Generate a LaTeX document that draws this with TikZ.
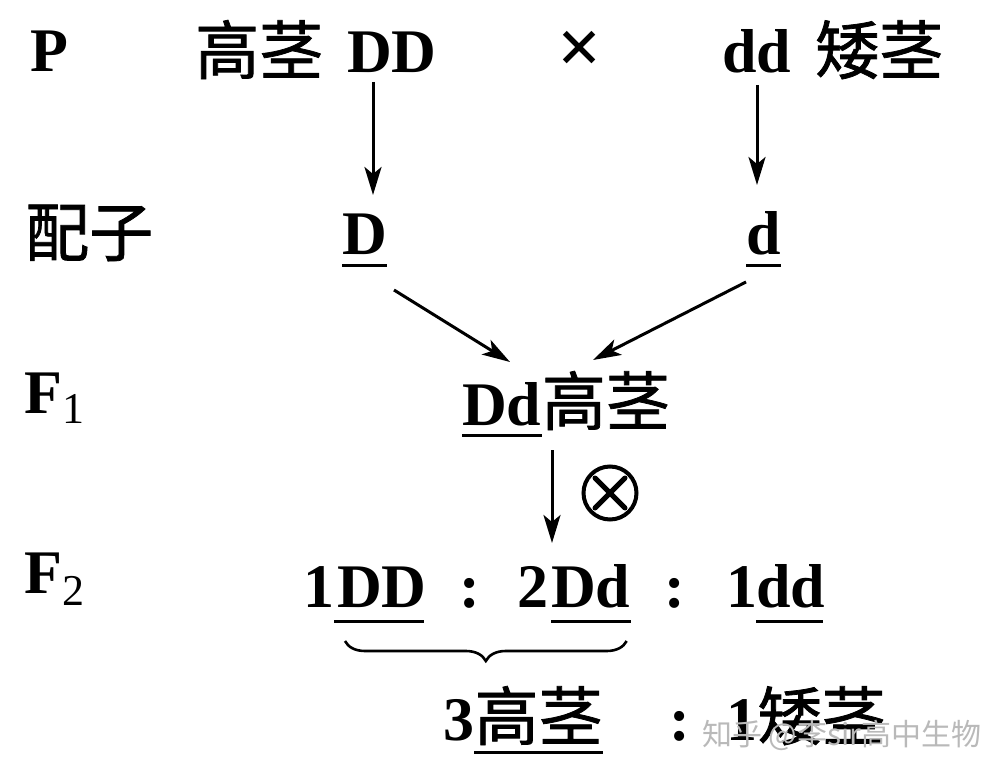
\documentclass[tikz,border=0pt]{standalone}
\usepackage{fontspec}
\setmainfont{Liberation Serif}
\newfontfamily\cjk{Noto Sans CJK SC}[AutoFakeBold=1.2]
\usetikzlibrary{arrows.meta,decorations.pathreplacing}
\newcommand\latf{\fontsize{62}{70}\selectfont\bfseries}
\newcommand\cjkf{\cjk\fontsize{64}{70}\selectfont\bfseries}
\newcommand\subf{\fontsize{44}{46}\selectfont\mdseries}
\tikzset{
  lab/.style={inner sep=0pt, anchor=base west, font=\latf},
  labc/.style={inner sep=0pt, anchor=base, font=\latf},
  cj/.style={inner sep=0pt, anchor=base west, font=\cjkf},
  arr/.style={line width=3pt, -{Stealth[length=28pt,width=17pt,inset=7pt]}},
  ul/.style={line width=3pt},
  wm/.style={inner sep=0pt, anchor=base west, text=gray!55, font=\cjk\fontsize{30}{32}\selectfont\mdseries},
}
\begin{document}
\begin{tikzpicture}[x=1pt,y=-1pt]
\useasboundingbox (0,0) rectangle (1006,775);
% P row
\node[lab] (P) at (30,72) {P};
\node[cj] (tall) at (195,74) {高茎};
\node[lab] (DD) at (347,73) {DD};
\node[labc, font=\fontsize{78}{80}\selectfont\bfseries] (cross) at (580,74) {×};
\node[lab] (dd) at (722,73) {dd};
\node[cj] (short) at (815,74) {矮茎};
% gametes
\node[cj] (gam) at (25,256) {配子};
\node[lab] (gD) at (342,255) {D};
\node[lab] (gd) at (746,255) {d};
\draw[ul] ([yshift=-11pt]gD.base west) -- ([yshift=-11pt]gD.base east);
\draw[ul] ([yshift=-11pt]gd.base west) -- ([yshift=-11pt]gd.base east);
\coordinate (a1) at (373,0);
\coordinate (a2) at (757,0);
\draw[arr] ([yshift=-9pt]DD.base -| a1) -- ([yshift=60pt]gD.base -| a1);
\draw[arr] ([yshift=-12pt]dd.base -| a2) -- ([yshift=70pt]gd.base -| a2);
% F1
\node[lab] (F1) at (24,413) {F\raisebox{-10pt}{\subf 1}};
\node[lab] (f1Dd) at (462,425) {Dd};
\node[cj] (f1tall) at (f1Dd.base east) {高茎};
\draw[ul] ([yshift=-10pt]f1Dd.base west) -- ([yshift=-10pt]f1Dd.base east);
\draw[arr] ([shift={(52pt,-35pt)}]gD.base west) -- ([shift={(48pt,63pt)}]f1Dd.base west);
\draw[arr] ([shift={(0pt,-27pt)}]gd.base west) -- ([shift={(131pt,65pt)}]f1Dd.base west);
% selfing
\coordinate (a3) at (552,0);
\node[circle, draw, line width=4pt, minimum size=53pt, inner sep=0pt] (self) at (610,493) {};
\draw[line width=5pt, line cap=round] ([shift={(-15pt,-15pt)}]self.center) -- ([shift={(15pt,15pt)}]self.center);
\draw[line width=5pt, line cap=round] ([shift={(-15pt,15pt)}]self.center) -- ([shift={(15pt,-15pt)}]self.center);
% F2
\node[lab] (F2) at (24,593) {F\raisebox{-12pt}{\subf 2}};
\node[lab] (n1) at (303,607) {1};
\node[lab] (r1) at (337,607) {DD};
\node[labc] (c1) at (470,607) {:};
\node[lab] (n2) at (517,607) {2};
\node[lab] (r2) at (551,607) {Dd};
\node[labc] (c2) at (675,607) {:};
\node[lab] (n3) at (726,607) {1};
\node[lab] (r3) at (756,607) {dd};
\draw[arr] ([yshift=-25pt]f1Dd.base -| a3) -- ([yshift=64pt]r2.base -| a3);
\draw[ul] ([shift={(-3pt,-14pt)}]r1.base west) -- ([shift={(-3pt,-14pt)}]r1.base east);
\draw[ul] ([shift={(0pt,-14pt)}]r2.base west) -- ([shift={(0pt,-14pt)}]r2.base east);
\draw[ul] ([shift={(0pt,-14pt)}]r3.base west) -- ([shift={(-2pt,-14pt)}]r3.base east);
\draw[line width=2.6pt, decorate, decoration={brace, mirror, amplitude=20pt}]
  ([shift={(8pt,-34pt)}]r1.base west) -- ([shift={(-4pt,-34pt)}]r2.base east);
% bottom
\node[lab] (b3) at (443,740) {3};
\node[cj] (btall) at (b3.base east) {高茎};
\draw[ul] ([yshift=-12pt]btall.base west) -- ([yshift=-12pt]btall.base east);
\node[labc] (bc) at (680,740) {:};
\node[lab] (b1) at (726,740) {1};
\node[cj] (bshort) at (b1.base east) {矮茎};
% watermark
\node[wm] (wmark) at (702,745) {知乎 @李sir高中生物};
\end{tikzpicture}
\end{document}
